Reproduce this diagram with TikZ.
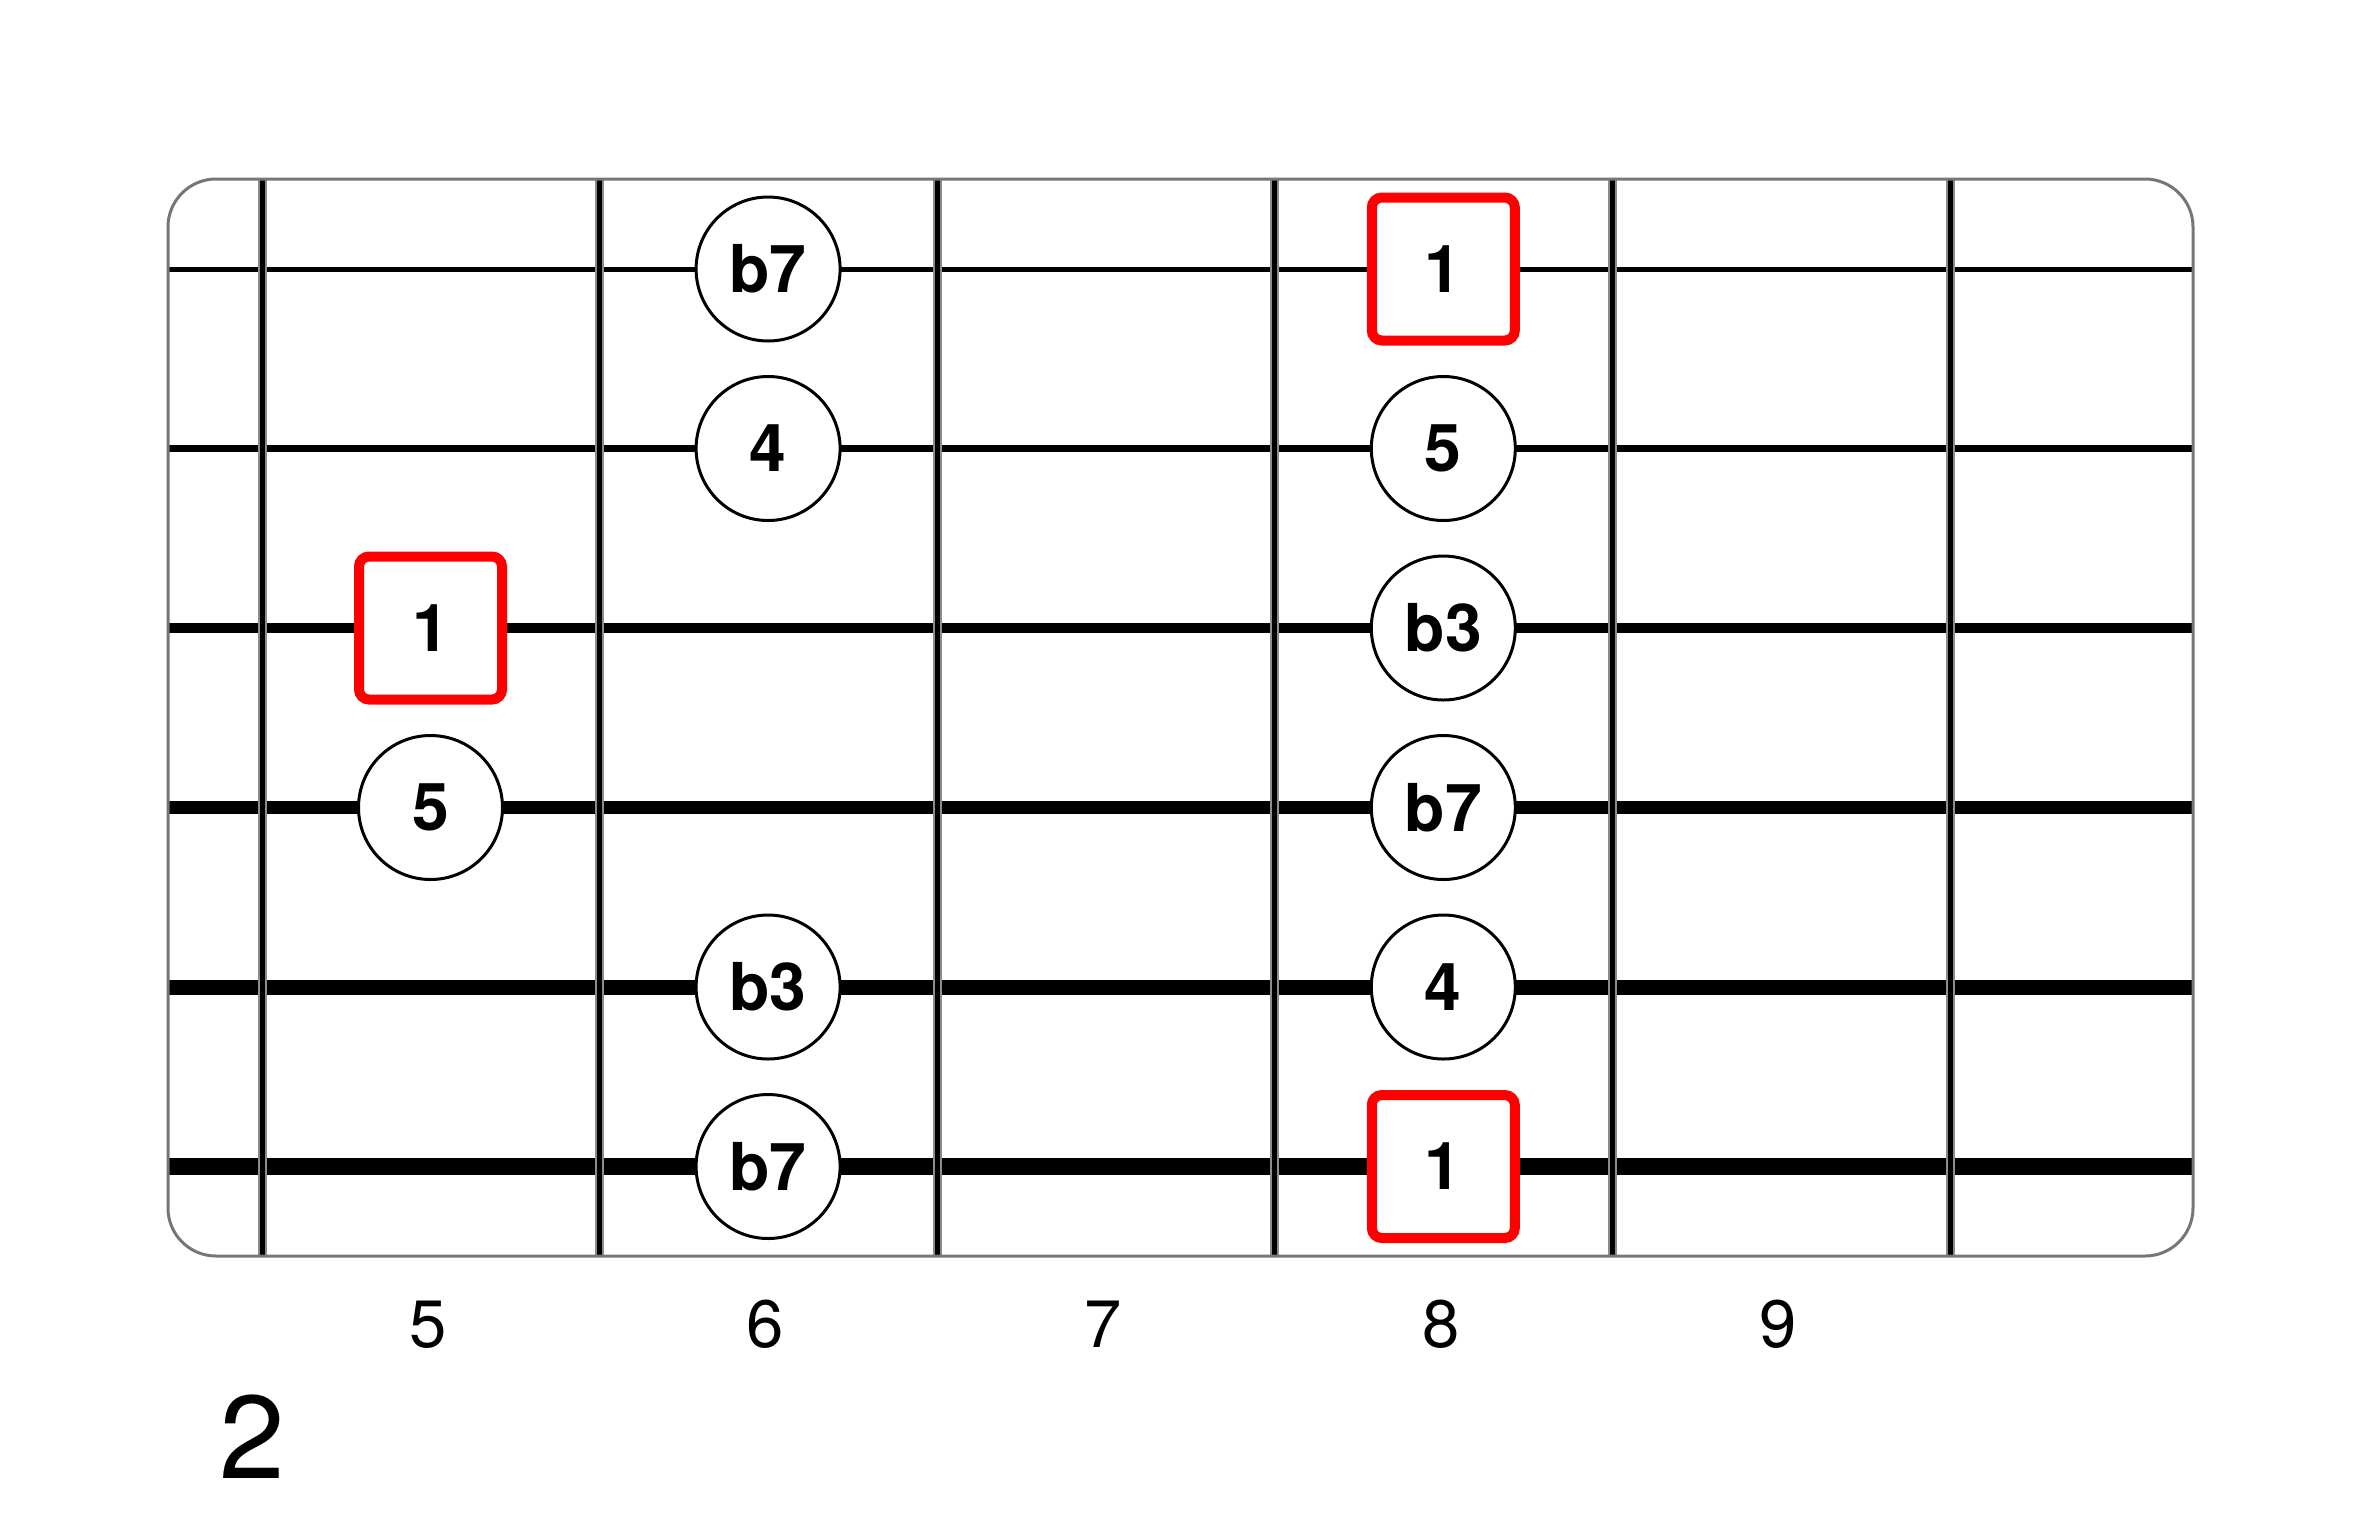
\documentclass[tikz,border=0pt]{standalone}
\usepackage{fontspec}
\setmainfont{TeX Gyre Heros}
\definecolor{rootred}{RGB}{255,0,0}
\definecolor{boardgray}{RGB}{118,118,118}
\tikzset{
  note/.style={circle, draw=black, fill=white, line width=3pt, minimum size=144pt, inner sep=0pt, font=\fontsize{66}{66}\selectfont\bfseries},
  rootnote/.style={rectangle, draw=rootred, fill=white, line width=10pt, rounded corners=10pt, minimum size=143pt, inner sep=0pt, font=\fontsize{66}{66}\selectfont\bfseries},
  fretline/.style={line width=5pt, black},
  frethalo/.style={line width=9pt, black!45},
  fretnum/.style={font=\fontsize{67}{67}\selectfont, inner sep=0pt},
}
\begin{document}
\begin{tikzpicture}[x=1pt, y=-1pt]
\useasboundingbox (0,0) rectangle (2362,1524);
% strings
\foreach \i/\w in {0/5, 1/7.5, 2/10, 3/12.5, 4/15, 5/17}{
  \draw[line width=\w pt, black] (168, 269+179.5*\i) -- (2193, 269+179.5*\i);
}
% frets
\foreach \k in {0,...,5}{
  \draw[frethalo] (262+337.6*\k, 180) -- (262+337.6*\k, 1255);
  \draw[fretline] (262+337.6*\k, 180) -- (262+337.6*\k, 1255);
}
% board outline
\draw[boardgray, line width=3pt, rounded corners=48pt] (168,179) rectangle (2193,1256);
% notes (x = 430.5 + 337.6*(fret-5))
\node[note]     (s1f6) at (768.1, 269)    {b7};
\node[rootnote] (s1f8) at (1443.3, 269)   {1};
\node[note]     (s2f6) at (768.1, 448.5)  {4};
\node[note]     (s2f8) at (1443.3, 448.5) {5};
\node[rootnote] (s3f5) at (430.5, 628)    {1};
\node[note]     (s3f8) at (1443.3, 628)   {b3};
\node[note]     (s4f5) at (430.5, 807.5)  {5};
\node[note]     (s4f8) at (1443.3, 807.5) {b7};
\node[note]     (s5f6) at (768.1, 987)    {b3};
\node[note]     (s5f8) at (1443.3, 987)   {4};
\node[note]     (s6f6) at (768.1, 1166.5) {b7};
\node[rootnote] (s6f8) at (1443.3, 1166.5){1};
% fret numbers
\node[fretnum] (n5) at (428, 1324.5)  {5};
\node[fretnum] (n6) at (765.6, 1324.5)  {6};
\node[fretnum] (n7) at (1103.2, 1324.5) {7};
\node[fretnum] (n8) at (1440.8, 1324.5) {8};
\node[fretnum] (n9) at (1778.4, 1324.5) {9};
% position number
\node[font=\fontsize{118}{118}\selectfont, inner sep=0pt] (pos) at (252, 1436.5) {2};
\end{tikzpicture}
\end{document}
